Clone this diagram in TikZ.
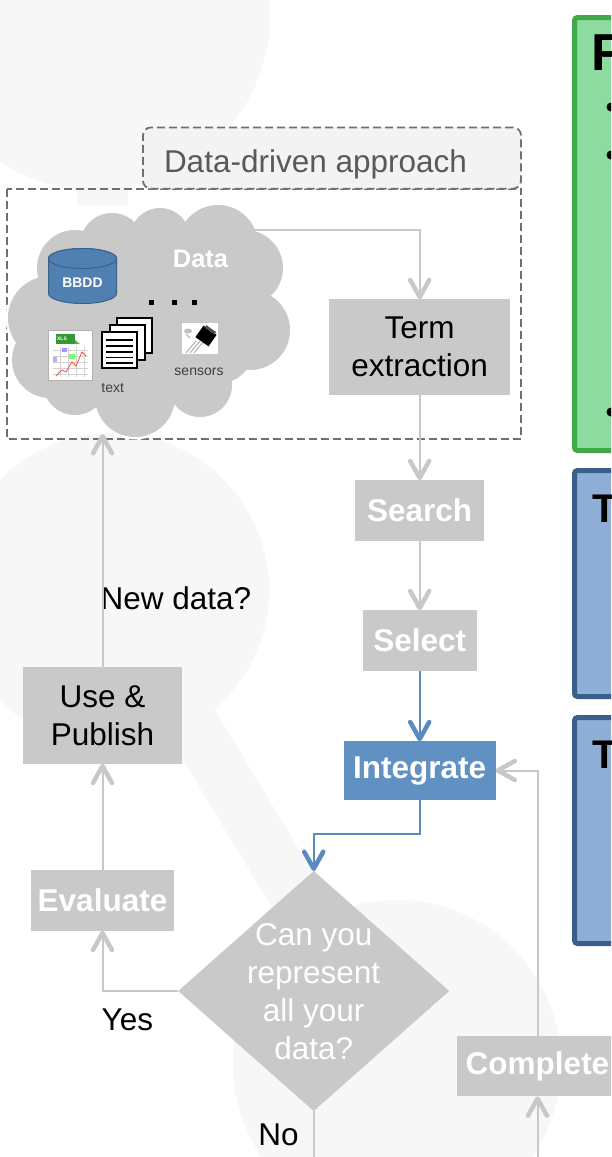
\documentclass[tikz,border=0pt]{standalone}
\usepackage{fontspec}
\setmainfont{Liberation Sans}
\usetikzlibrary{shapes.geometric,arrows.meta}
\definecolor{bgc}{HTML}{F7F7F7}
\definecolor{boxg}{HTML}{C9C9C9}
\definecolor{lineg}{HTML}{C8C8C8}
\definecolor{intblue}{HTML}{6190C2}
\definecolor{lineblue}{HTML}{5A8AC0}
\definecolor{grfill}{HTML}{8DDB9F}
\definecolor{grdraw}{HTML}{40A948}
\definecolor{blfill}{HTML}{8FAED8}
\definecolor{bldraw}{HTML}{3A5F8C}
\definecolor{dashc}{HTML}{707070}
\definecolor{labc}{HTML}{595959}
\definecolor{labfill}{HTML}{F3F3F3}
\definecolor{cylf}{HTML}{5080B2}
\definecolor{cyld}{HTML}{3B6088}
\definecolor{icontxt}{HTML}{3F3F3F}
\begin{document}
\begin{tikzpicture}[x=1pt,y=-1pt,
  every node/.style={inner sep=0pt, outer sep=0pt},
  big/.style={font=\fontsize{31.5pt}{38pt}\selectfont},
  graybox/.style={fill=boxg, big, align=center},
  wbold/.style={text=white, font=\fontsize{31.5pt}{38pt}\selectfont\bfseries},
  conn/.style={draw=lineg, line width=2pt, -{Straight Barb[length=17pt,width=19pt,line width=4.5pt,round]}},
  bconn/.style={conn, draw=lineblue},
  plainline/.style={draw=lineg, line width=2pt},
  sidebox/.style={line width=5pt, rounded corners=3pt, anchor=north west, minimum width=80pt},
  smalltxt/.style={text=icontxt, font=\fontsize{14pt}{14pt}\selectfont},
]
\useasboundingbox (0,0) rectangle (611,1157);
\clip (0,0) rectangle (611,1157);
\fill[white] (0,0) rectangle (611,1157);

% background decoration
\fill[bgc] (95,15) circle[radius=175];
\fill[bgc] (77,100) rectangle (128,205);
\fill[bgc] (112,590) circle[radius=157];
\fill[bgc] (397,1064) circle[radius=164];
\draw[bgc, line width=53pt] (112,590) -- (397,1064);

% dashed frames
\draw[dashc, line width=1.8pt, dash pattern=on 8pt off 4pt] (7,188.7) rectangle (521,439);
\node[draw=dashc, line width=1.8pt, dash pattern=on 8pt off 4pt, fill=labfill, rounded corners=8pt,
      minimum width=378pt, minimum height=61.3pt, anchor=north west] (labbox) at (143,127.4) {};
\node[anchor=base west, text=labc, big] (labtxt) at (164,172) {Data-driven approach};

% cloud
\foreach \cx/\cy/\r in {50/318/42, 75/268/38, 112/245/32, 160/238/30, 218/245/40, 245/268/38, 250/330/40, 220/350/33, 200/385/32, 135/397/40, 75/383/32, 50/360/38}
  {\fill[white] (\cx,\cy) circle[radius=\r+2.5];}
\fill[white] (150,315) ellipse[x radius=107, y radius=80];
\foreach \cx/\cy/\r in {50/318/42, 75/268/38, 112/245/32, 160/238/30, 218/245/40, 245/268/38, 250/330/40, 220/350/33, 200/385/32, 135/397/40, 75/383/32, 50/360/38}
  {\fill[boxg] (\cx,\cy) circle[radius=\r];}
\fill[boxg] (150,315) ellipse[x radius=105, y radius=78];
\node[anchor=base, text=white, font=\fontsize{25.4pt}{26pt}\selectfont\bfseries] (datatxt) at (200.5,267.1) {Data};

% database cylinder
\filldraw[fill=cylf, draw=cyld, line width=1pt] (48.5,258.5) -- (48.5,293.5)
  arc[start angle=180, end angle=0, x radius=34, y radius=10] -- (116.5,258.5)
  arc[start angle=0, end angle=-180, x radius=34, y radius=10] -- cycle;
\filldraw[fill=cylf, draw=cyld, line width=1pt] (82.5,258.5) ellipse[x radius=34, y radius=10];
\node[text=white, font=\fontsize{13.9pt}{14pt}\selectfont\bfseries] (bbdd) at (82.5,283) {BBDD};

% dots
\fill[black] (148.5,300) rectangle ++(5,5);
\fill[black] (171.5,300) rectangle ++(5,5);
\fill[black] (191.5,300) rectangle ++(5,5);

% xls icon
\filldraw[fill=white, draw=gray!60, line width=0.8pt] (48.5,330) rectangle (92,380.5);
\fill[green!50!black!80] (56,334) rectangle (75,344);
\fill[green!60!black!70] (75,340) -- (80,344) -- (75,344) -- cycle;
\node[text=white, font=\fontsize{5pt}{5pt}\selectfont\bfseries] (xlstxt) at (62,339) {XLS};
\foreach \yy in {350,356,362,368,374} {\draw[gray!35, line width=0.5pt] (53,\yy) -- (88,\yy);}
\foreach \xx in {60,68,76,84} {\draw[gray!35, line width=0.5pt] (\xx,347) -- (\xx,377);}
\fill[blue!40] (62,348) rectangle (67,352);
\fill[green!55] (69,354) rectangle (75,359);
\fill[blue!30] (53,357) rectangle (57,362);
\draw[red!70, line width=0.8pt] (56,376) -- (62,370) -- (66,372) -- (72,362) -- (76,366) -- (82,352) -- (86,356);

% text documents icon
\filldraw[fill=white, draw=black, line width=1.3pt] (117,318) rectangle (152,353);
\filldraw[fill=white, draw=black, line width=1.3pt] (110,325) rectangle (145,360);
\filldraw[fill=white, draw=black, line width=1.3pt] (102,332) rectangle (137,368);
\foreach \yy in {340,346,352,357.5,363} {\draw[black, line width=1.3pt] (106,\yy) -- (133,\yy);}
\node[anchor=base, smalltxt] (texttxt) at (112.7,392) {text};

% sensor icon
\fill[white] (182,323) rectangle (218,354);
\fill[gray!50] (188,331) ellipse[x radius=4, y radius=2.5];
\draw[gray!70, line width=0.8pt] (186,334) -- (190,338);
\foreach \dx in {0,4,8} {\draw[gray!60, line width=1pt] (196+\dx,341) -- (186+\dx,353);}
\fill[black, rotate around={-35:(206,336)}] (198,329) rectangle (214,343);
\fill[black!70, rotate around={-35:(206,336)}] (200,327) rectangle (212,330);
\node[anchor=base, smalltxt] (senstxt) at (199,375) {sensors};

% right panels
\node[sidebox, draw=grdraw, fill=grfill, minimum height=433pt] (fbox) at (574.5,17.5) {};
\node[anchor=base west, font=\fontsize{52pt}{52pt}\selectfont\bfseries] (ftxt) at (591,70) {F};
\fill[black] (611,107) circle[radius=4.5];
\fill[black] (611,155) circle[radius=4.5];
\fill[black] (611,412) circle[radius=4.5];
\node[sidebox, draw=bldraw, fill=blfill, minimum height=226pt] (tbox1) at (574.5,470.5) {};
\node[anchor=base west, font=\fontsize{40pt}{40pt}\selectfont\bfseries] (t1txt) at (592,522) {T};
\node[sidebox, draw=bldraw, fill=blfill, minimum height=226pt] (tbox2) at (574.5,717.5) {};
\node[anchor=base west, font=\fontsize{40pt}{40pt}\selectfont\bfseries] (t2txt) at (592,768.3) {T};

% flow nodes
\node[graybox, minimum width=181.5pt, minimum height=96pt] (term) at (419.7,347.3) {Term\\extraction};
\node[graybox, wbold, minimum width=128.6pt, minimum height=60.5pt] (search) at (419.7,510.5) {Search};
\node[graybox, wbold, minimum width=113.6pt, minimum height=60.3pt] (select) at (419.7,640.4) {Select};
\node[graybox, wbold, fill=intblue, minimum width=151.7pt, minimum height=58.5pt] (integ) at (419.7,770.5) {Integrate};
\node[graybox, minimum width=158.2pt, minimum height=96.5pt] (usepub) at (102.5,715.5) {Use \&\\Publish};
\node[graybox, wbold, minimum width=143.6pt, minimum height=60.7pt] (eval) at (102.5,900.4) {Evaluate};
\node[graybox, wbold, minimum width=161pt, minimum height=60pt] (compl) at (537.5,1066.4) {Complete};
\node[diamond, fill=boxg, minimum width=271pt, minimum height=240pt, inner sep=0pt] (dia) at (313.7,991) {};
\node[align=center, text=white, big] (diatxt) at (313.7,992) {Can you\\represent\\all your\\data?};

% labels
\node[anchor=base west, big] (newdata) at (100.6,609.7) {New data?};
\node[anchor=base, big] (yes) at (127.3,1030) {Yes};
\node[anchor=base, big] (no) at (278.5,1145.3) {No};

% connectors
\coordinate (cloudout) at (255,229.6);
\coordinate (cloudin) at (102.5,434);
\coordinate (bend) at (0,834);
\coordinate (bottomL) at (313.7,1160);
\coordinate (bottomR) at (537.5,1160);
\draw[conn] (cloudout) -| (term.north);
\draw[conn] (term.south) -- (search.north);
\draw[conn] (search.south) -- (select.north);
\draw[bconn] (select.south) -- (integ.north);
\draw[bconn] (integ.south) -- (integ.south |- bend) -| (dia.north);
\draw[conn] (dia.west) -| (eval.south);
\draw[conn] (eval.north) -- (usepub.south);
\draw[conn] (usepub.north) -- (cloudin);
\draw[conn] (compl.north) |- (integ.east);
\draw[plainline] (dia.south) -- (bottomL);
\draw[conn] (bottomR) -- (compl.south);
\end{tikzpicture}
\end{document}
